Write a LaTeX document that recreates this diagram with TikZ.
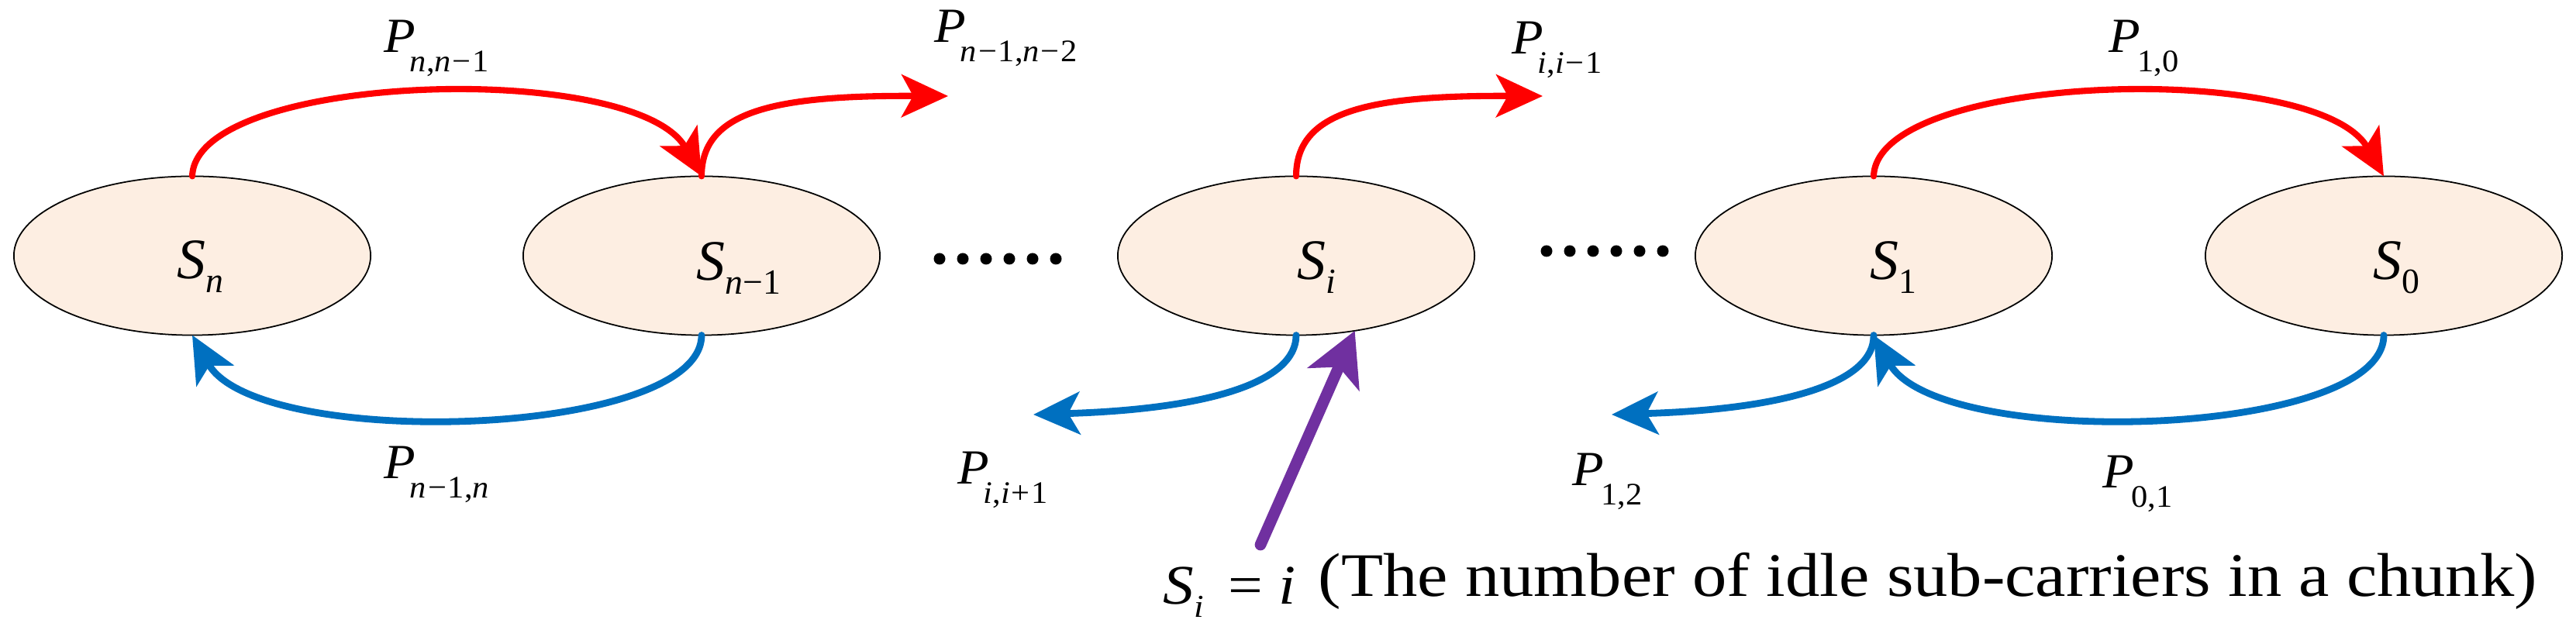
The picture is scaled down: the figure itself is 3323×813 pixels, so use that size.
\documentclass[tikz,border=0pt]{standalone}
\usepackage{fontspec}
\setmainfont{Liberation Serif}
\usetikzlibrary{arrows.meta,shapes.geometric}
\definecolor{redc}{HTML}{FF0000}
\definecolor{bluec}{HTML}{0070C0}
\definecolor{purc}{HTML}{7030A0}
\definecolor{peach}{HTML}{FDEEE2}
% P label: #1 kern after P, #2 subscript
\newcommand{\Plab}[2]{\scalebox{1.05}[1]{\fontsize{18}{20}\selectfont\textit{P}\kern#1\raisebox{-7pt}{\fontsize{11.5}{13}\selectfont #2}}}
% S label in ellipse
\newcommand{\Slab}[1]{{\fontsize{21}{24}\selectfont\textit{S}\raisebox{-5pt}{\fontsize{13}{15}\selectfont #1}}}
\newcommand{\mn}{\kern0.5pt\textminus\kern0.5pt}
\newcommand{\pls}{\kern0.5pt+\kern0.5pt}
\begin{document}
\begin{tikzpicture}[x=0.01cm,y=0.01cm,
  state/.style={ellipse,draw=black,line width=0.5pt,fill=peach,minimum width=4.6cm,minimum height=2.05cm,inner sep=0pt,outer sep=0pt},
  lbl/.style={anchor=base west,inner sep=0pt},
  redarr/.style={color=redc,line width=2.3pt,line cap=round,-{Stealth[length=0.6cm,width=0.55cm,inset=0.15cm]}},
  bluearr/.style={color=bluec,line width=2.5pt,line cap=round,-{Stealth[length=0.6cm,width=0.55cm,inset=0.15cm]}},
  purarr/.style={color=purc,line width=4.2pt,line cap=round,-{Stealth[length=0.68cm,width=0.72cm,inset=0.17cm]}}]
\useasboundingbox (0,0) rectangle (3323,813);
% states
\node[state] (sn) at (248,483) {};
\node[state] (sn1) at (905,483) {};
\node[state] (si) at (1672,483) {};
\node[state] (s1) at (2417,483) {};
\node[state] (s0) at (3075,483) {};
\node[lbl] (tsn) at (228,453) {\Slab{\textit{n}}};
\node[lbl] (tsn1) at (898,451) {\Slab{\textit{n}\textminus1}};
\node[lbl] (tsi) at (1673,452) {\Slab{\textit{i}}};
\node[lbl] (ts1) at (2412,452) {\Slab{1}};
\node[lbl] (ts0) at (3061,452) {\Slab{0}};
% red transitions
\coordinate (e1) at (1223,689);
\coordinate (e2) at (1990,689);
\draw[redarr] (sn.north) .. controls (252,720) and (820,736) .. (sn1.north);
\draw[redarr] (sn1.north) .. controls (905,670) and (1000,690) .. (e1);
\draw[redarr] (si.north) .. controls (1672,670) and (1767,690) .. (e2);
\draw[redarr] (s1.north) .. controls (2421,720) and (2989,736) .. (s0.north);
% blue transitions
\coordinate (e3) at (1333,278);
\coordinate (e4) at (2079,278);
\draw[bluearr] (sn1.south) .. controls (905,247) and (332,231) .. (sn.south);
\draw[bluearr] (si.south) .. controls (1672,320) and (1560,285) .. (e3);
\draw[bluearr] (s1.south) .. controls (2418,320) and (2306,285) .. (e4);
\draw[bluearr] (s0.south) .. controls (3075,247) and (2501,231) .. (s1.south);
% purple pointer
\coordinate (pt) at (1626,110);
\draw[purarr] (pt) -- (si.-52);
% dots
\foreach \k in {0,...,5} \fill (1212+30*\k,479) circle (0.075cm);
\foreach \k in {0,...,5} \fill (1995+30*\k,489) circle (0.075cm);
% labels
\node[lbl] (p1) at (495,745) {\Plab{-2pt}{\textit{n},\textit{n}\mn1}};
\node[lbl] (p2) at (1205,758) {\Plab{-2pt}{\textit{n}\mn1,\textit{n}\mn2}};
\node[lbl] (p3) at (1950,743) {\Plab{-2pt}{\textit{i},\textit{i}\mn1}};
\node[lbl] (p4) at (2720,745) {\Plab{-1pt}{1,0}};
\node[lbl] (p5) at (495,195) {\Plab{-2pt}{\textit{n}\mn1,\textit{n}}};
\node[lbl] (p6) at (1235,188) {\Plab{-2pt}{\textit{i},\textit{i}\pls1}};
\node[lbl] (p7) at (2028,186) {\Plab{-1pt}{1,2}};
\node[lbl] (p8) at (2712,183) {\Plab{-1pt}{0,1}};
\node[lbl] (eq) at (1500,33) {\scalebox{1.1}[1]{\fontsize{20.5}{24}\selectfont\textit{S}\raisebox{-4.8pt}{\fontsize{11.7}{13}\selectfont\textit{i}}\hspace{0.4em}=\hspace{0.25em}\textit{i}}};
\node[lbl] (desc) at (1700,43) {\scalebox{1.11}[1]{\fontsize{22.7}{27}\selectfont (The number of idle sub-carriers in a chunk)}};
\end{tikzpicture}
\end{document}
